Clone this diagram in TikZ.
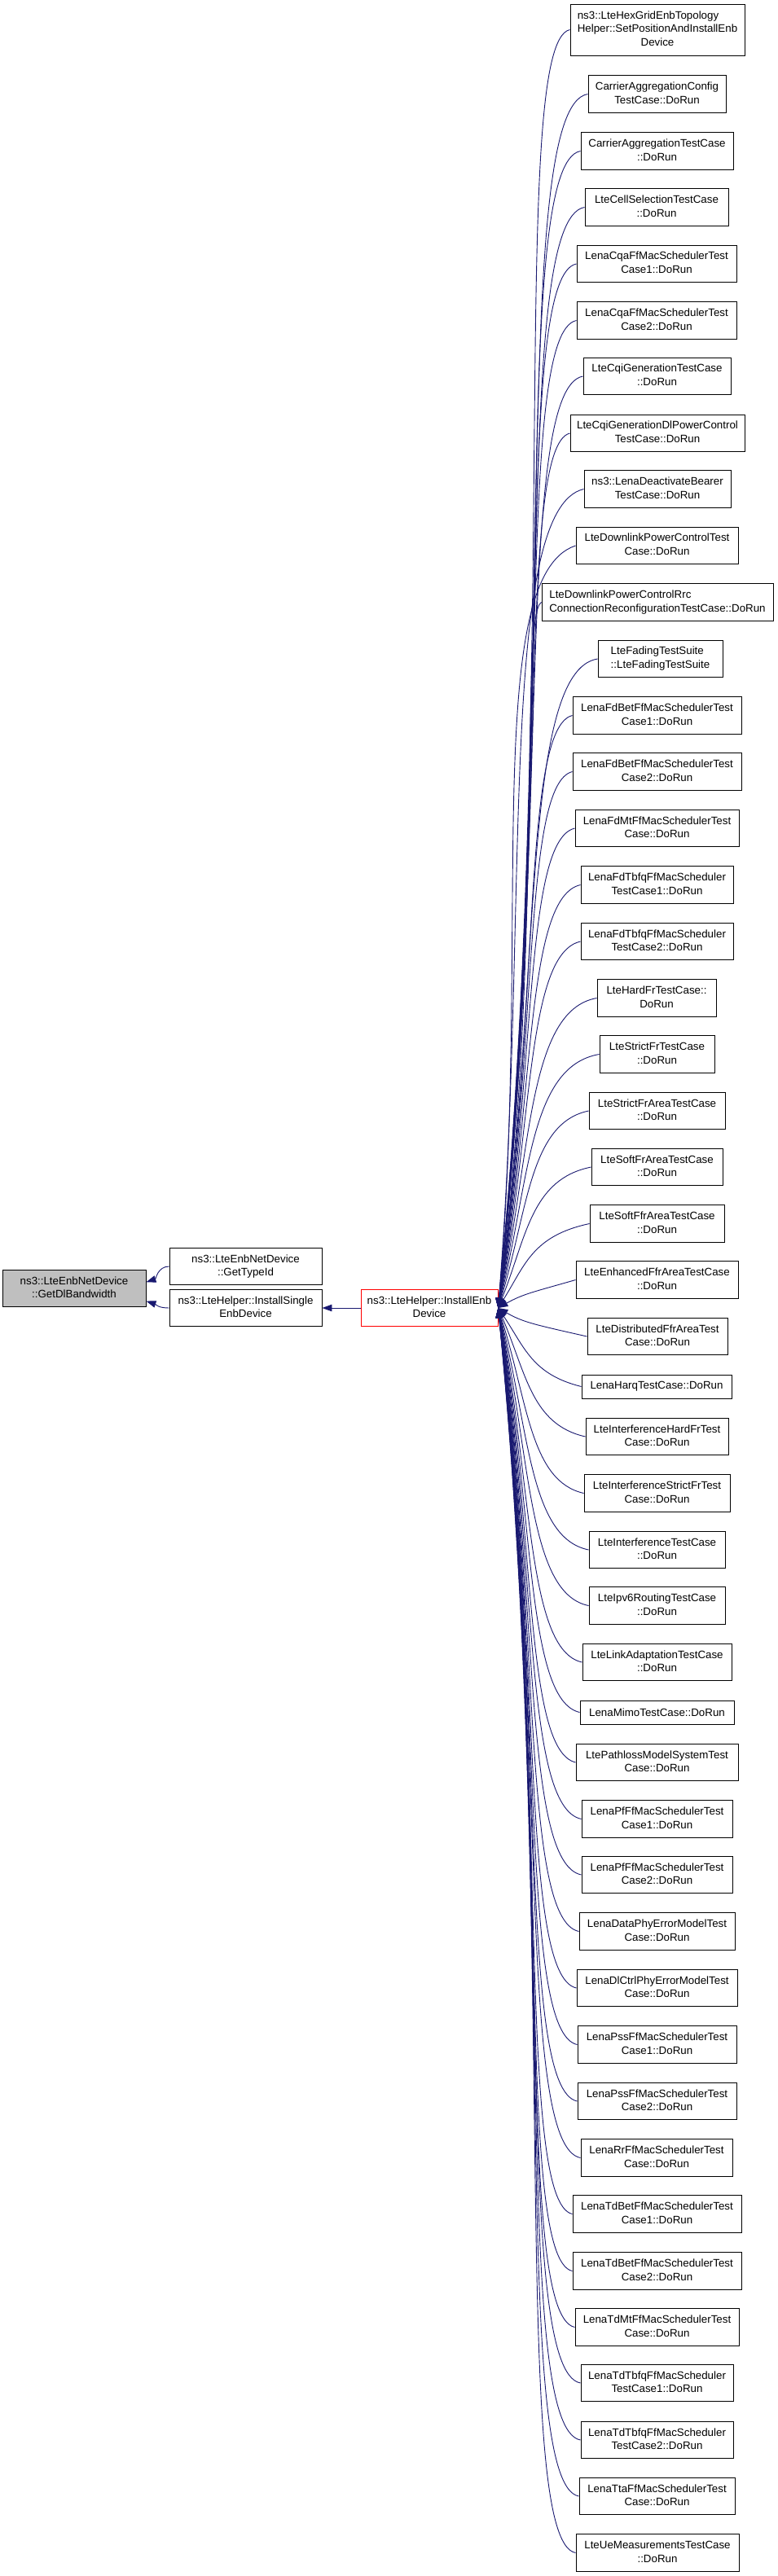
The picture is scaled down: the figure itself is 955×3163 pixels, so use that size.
\documentclass[tikz,border=0pt]{standalone}
\usepackage{fontspec}
\setmainfont{Liberation Sans}
\usetikzlibrary{arrows.meta,calc}
\definecolor{edgeblue}{HTML}{191970}
\definecolor{boxgrey}{HTML}{BFBFBF}
\newcommand\twol[2]{\begin{tabular}{@{}l@{}}#1\\\multicolumn{1}{@{}c@{}}{#2}\end{tabular}}
\begin{document}
\begin{tikzpicture}[x=1pt,y=-1pt,
  box/.style={draw=black, line width=0.9pt, inner sep=0pt, minimum height=45.5pt,
    font=\fontsize{13.33}{16.7}\selectfont},
  callarrow/.style={draw=edgeblue, line width=0.9pt, -{Triangle[length=12pt,width=8.5pt]}, fill=none}]
\useasboundingbox (0,0) rectangle (955,3163);
% left part
\node[box, draw=red, minimum width=168pt] (enb) at (527,1606) {\twol{ns3::LteHelper::InstallEnb}{Device}};
\node[box, minimum width=187pt] (single) at (301.5,1606) {\twol{ns3::LteHelper::InstallSingle}{EnbDevice}};
\node[box, minimum width=187pt] (typeid) at (301.5,1555) {\twol{ns3::LteEnbNetDevice}{::GetTypeId}};
\node[box, fill=boxgrey, minimum width=176pt] (dlbw) at (91,1582) {\twol{ns3::LteEnbNetDevice}{::GetDlBandwidth}};
% right column
\node[box, minimum width=214pt, minimum height=63pt] (hex) at (807,36.5) {\twol{ns3::LteHexGridEnbTopology\\Helper::SetPositionAndInstallEnb}{Device}};
\node[box, minimum width=169pt] (caconf) at (806.5,115.5) {\twol{CarrierAggregationConfig}{TestCase::DoRun}};
\node[box, minimum width=187pt] (catest) at (806.5,185.5) {\twol{CarrierAggregationTestCase}{::DoRun}};
\node[box, minimum width=176pt] (cellsel) at (806,254.5) {\twol{LteCellSelectionTestCase}{::DoRun}};
\node[box, minimum width=196pt] (cqa1) at (806,324) {\twol{LenaCqaFfMacSchedulerTest}{Case1::DoRun}};
\node[box, minimum width=196pt] (cqa2) at (806,393.5) {\twol{LenaCqaFfMacSchedulerTest}{Case2::DoRun}};
\node[box, minimum width=181pt] (cqigen) at (806.5,462) {\twol{LteCqiGenerationTestCase}{::DoRun}};
\node[box, minimum width=214pt] (cqidl) at (807,532) {\twol{LteCqiGenerationDlPowerControl}{TestCase::DoRun}};
\node[box, minimum width=180pt] (deact) at (807,600.5) {\twol{ns3::LenaDeactivateBearer}{TestCase::DoRun}};
\node[box, minimum width=199pt] (dlpc) at (806.5,670) {\twol{LteDownlinkPowerControlTest}{Case::DoRun}};
\node[box, minimum width=284pt] (dlrrc) at (807,739.5) {\twol{LteDownlinkPowerControlRrc}{ConnectionReconfigurationTestCase::DoRun}};
\node[box, minimum width=153pt] (fading) at (810.5,809) {\twol{LteFadingTestSuite}{::LteFadingTestSuite}};
\node[box, minimum width=207pt] (fdbet1) at (806.5,878.5) {\twol{LenaFdBetFfMacSchedulerTest}{Case1::DoRun}};
\node[box, minimum width=207pt] (fdbet2) at (806.5,947.5) {\twol{LenaFdBetFfMacSchedulerTest}{Case2::DoRun}};
\node[box, minimum width=201pt] (fdmt) at (806.5,1017) {\twol{LenaFdMtFfMacSchedulerTest}{Case::DoRun}};
\node[box, minimum width=187pt] (fdtbfq1) at (806.5,1086.5) {\twol{LenaFdTbfqFfMacScheduler}{TestCase1::DoRun}};
\node[box, minimum width=187pt] (fdtbfq2) at (806.5,1156) {\twol{LenaFdTbfqFfMacScheduler}{TestCase2::DoRun}};
\node[box, minimum width=146pt] (hardfr) at (806,1225.5) {\twol{LteHardFrTestCase::}{DoRun}};
\node[box, minimum width=141pt] (strictfr) at (806.5,1294.5) {\twol{LteStrictFrTestCase}{::DoRun}};
\node[box, minimum width=167pt] (strictarea) at (806.5,1364) {\twol{LteStrictFrAreaTestCase}{::DoRun}};
\node[box, minimum width=161pt] (softarea) at (806.5,1433) {\twol{LteSoftFrAreaTestCase}{::DoRun}};
\node[box, minimum width=165pt] (softffr) at (806.5,1502.5) {\twol{LteSoftFfrAreaTestCase}{::DoRun}};
\node[box, minimum width=199pt] (enhanced) at (806.5,1571.5) {\twol{LteEnhancedFfrAreaTestCase}{::DoRun}};
\node[box, minimum width=172pt] (distrib) at (807,1641) {\twol{LteDistributedFfrAreaTest}{Case::DoRun}};
\node[box, minimum width=184pt, minimum height=29pt] (harq) at (806,1702.5) {LenaHarqTestCase::DoRun};
\node[box, minimum width=175pt] (inthard) at (806.5,1764) {\twol{LteInterferenceHardFrTest}{Case::DoRun}};
\node[box, minimum width=179pt] (intstrict) at (806.5,1833.5) {\twol{LteInterferenceStrictFrTest}{Case::DoRun}};
\node[box, minimum width=167pt] (inttest) at (806.5,1903) {\twol{LteInterferenceTestCase}{::DoRun}};
\node[box, minimum width=167pt] (ipv6) at (806.5,1971.5) {\twol{LteIpv6RoutingTestCase}{::DoRun}};
\node[box, minimum width=183pt] (linkad) at (806.5,2041) {\twol{LteLinkAdaptationTestCase}{::DoRun}};
\node[box, minimum width=189pt, minimum height=29pt] (mimo) at (806.5,2102.5) {LenaMimoTestCase::DoRun};
\node[box, minimum width=199pt] (pathloss) at (806.5,2164) {\twol{LtePathlossModelSystemTest}{Case::DoRun}};
\node[box, minimum width=185pt] (pf1) at (806.5,2233.5) {\twol{LenaPfFfMacSchedulerTest}{Case1::DoRun}};
\node[box, minimum width=185pt] (pf2) at (806.5,2302) {\twol{LenaPfFfMacSchedulerTest}{Case2::DoRun}};
\node[box, minimum width=191pt] (dataphy) at (806.5,2371.5) {\twol{LenaDataPhyErrorModelTest}{Case::DoRun}};
\node[box, minimum width=197pt] (dlctrl) at (806.5,2441) {\twol{LenaDlCtrlPhyErrorModelTest}{Case::DoRun}};
\node[box, minimum width=195pt] (pss1) at (806.5,2510.5) {\twol{LenaPssFfMacSchedulerTest}{Case1::DoRun}};
\node[box, minimum width=195pt] (pss2) at (806.5,2580) {\twol{LenaPssFfMacSchedulerTest}{Case2::DoRun}};
\node[box, minimum width=186pt] (rr) at (806,2649.5) {\twol{LenaRrFfMacSchedulerTest}{Case::DoRun}};
\node[box, minimum width=207pt] (tdbet1) at (806.5,2718.5) {\twol{LenaTdBetFfMacSchedulerTest}{Case1::DoRun}};
\node[box, minimum width=207pt] (tdbet2) at (806.5,2788.5) {\twol{LenaTdBetFfMacSchedulerTest}{Case2::DoRun}};
\node[box, minimum width=201pt] (tdmt) at (806.5,2857.5) {\twol{LenaTdMtFfMacSchedulerTest}{Case::DoRun}};
\node[box, minimum width=187pt] (tdtbfq1) at (806.5,2926) {\twol{LenaTdTbfqFfMacScheduler}{TestCase1::DoRun}};
\node[box, minimum width=187pt] (tdtbfq2) at (806.5,2996) {\twol{LenaTdTbfqFfMacScheduler}{TestCase2::DoRun}};
\node[box, minimum width=191pt] (tta) at (806.5,3065) {\twol{LenaTtaFfMacSchedulerTest}{Case::DoRun}};
\node[box, minimum width=200pt] (uemeas) at (807,3134.5) {\twol{LteUeMeasurementsTestCase}{::DoRun}};
% connectors
\draw[callarrow] (enb.west) -- (single.east);
\draw[callarrow] (single.west) .. controls +(-14,0) and +(12,4) .. (dlbw.-10);
\draw[callarrow] (typeid.west) .. controls +(-14,0) and +(12,-4) .. (dlbw.5);
\draw[callarrow] (deact.west) .. controls (610,625) and (650,1126) .. (enb.east);
\draw[callarrow] (dlpc.west) .. controls (590,708) and (652,1150) .. (enb.east);
\foreach \n/\y in {hex/36.5, caconf/115.5, catest/185.5, cellsel/254.5, cqa1/324, cqa2/393.5,
  cqigen/462, cqidl/532, dlrrc/739.5, fading/809, fdbet1/878.5,
  fdbet2/947.5, fdmt/1017, fdtbfq1/1086.5, fdtbfq2/1156, hardfr/1225.5, strictfr/1294.5,
  strictarea/1364, softarea/1433, softffr/1502.5, enhanced/1571.5, distrib/1641,
  harq/1702.5, inthard/1764, intstrict/1833.5, inttest/1903, ipv6/1971.5, linkad/2041,
  mimo/2102.5, pathloss/2164, pf1/2233.5, pf2/2302, dataphy/2371.5, dlctrl/2441,
  pss1/2510.5, pss2/2580, rr/2649.5, tdbet1/2718.5, tdbet2/2788.5, tdmt/2857.5,
  tdtbfq1/2926, tdtbfq2/2996, tta/3065, uemeas/3134.5}
  {\draw[callarrow] (\n.west) .. controls ({655-0.02*abs(1606-\y)},{\y+15*sign(1606-\y)})
     and ({641+0.03*abs(1606-\y)},{1606-0.5*(1606-\y)}) .. (enb.east);}
\end{tikzpicture}
\end{document}
